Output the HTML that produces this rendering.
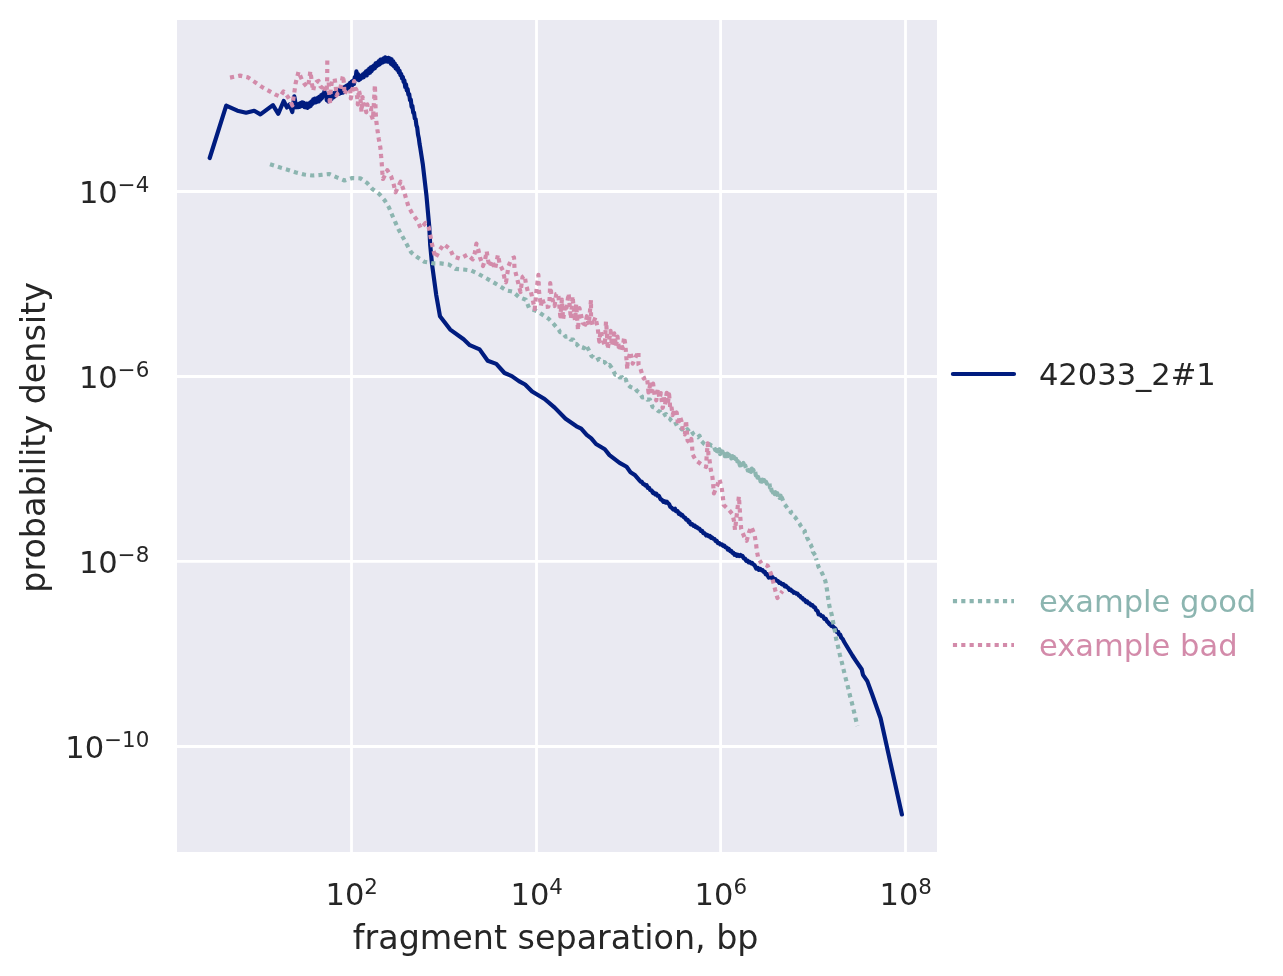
<!DOCTYPE html>
<html lang="en"><head><meta charset="utf-8"><title>fragment separation</title>
<style>html,body{margin:0;padding:0;background:#fff}svg{display:block}</style></head>
<body>
<svg width="1283" height="976" viewBox="0 0 1283 976">
<rect width="1283" height="976" fill="#fff"/>
<rect x="177" y="20" width="760" height="832" fill="#EAEAF2"/>
<line x1="351.5" y1="20" x2="351.5" y2="852" stroke="#fff" stroke-width="2.78"/>
<line x1="536.5" y1="20" x2="536.5" y2="852" stroke="#fff" stroke-width="2.78"/>
<line x1="720.6" y1="20" x2="720.6" y2="852" stroke="#fff" stroke-width="2.78"/>
<line x1="905.5" y1="20" x2="905.5" y2="852" stroke="#fff" stroke-width="2.78"/>
<line x1="177" y1="191.5" x2="937" y2="191.5" stroke="#fff" stroke-width="2.78"/>
<line x1="177" y1="376.5" x2="937" y2="376.5" stroke="#fff" stroke-width="2.78"/>
<line x1="177" y1="561.4" x2="937" y2="561.4" stroke="#fff" stroke-width="2.78"/>
<line x1="177" y1="746.5" x2="937" y2="746.5" stroke="#fff" stroke-width="2.78"/>
<polyline points="209.7,158.0 226.2,105.6 237.4,110.7 246.1,112.7 254.2,110.8 260.4,114.4 272.9,105.1 278.3,113.8 283.7,101.0 287.0,107.5 289.5,104.5 292.3,112.0 294.3,96.3 296.2,107.3 297.2,104.3 298.0,107.2 298.8,103.9 299.6,106.9 300.4,103.1 301.2,106.2 302.0,102.3 302.8,105.8 303.6,102.7 304.4,107.1 305.2,103.8 306.0,107.3 306.8,103.6 307.6,107.9 308.4,104.2 309.2,106.8 310.0,102.7 310.8,105.9 311.6,101.3 312.4,104.0 313.2,99.4 314.0,102.8 314.8,98.6 315.6,102.5 316.4,98.5 317.2,101.8 318.0,97.7 318.8,101.5 319.6,96.7 320.4,99.8 321.2,95.2 322.0,98.2 322.8,94.1 323.6,95.6 324.4,91.4 325.2,95.8 326.0,94.4 326.8,100.3 327.6,98.0 328.4,101.4 329.2,96.5 330.0,99.9 330.8,94.8 331.6,99.0 332.4,94.4 333.2,97.6 334.0,93.2 334.8,96.5 335.6,92.0 336.4,94.8 337.2,90.6 338.0,93.6 338.8,89.8 339.6,93.6 340.4,89.4 341.2,93.0 342.0,88.9 342.8,92.7 343.6,87.7 344.4,91.8 345.2,86.6 346.0,90.0 346.8,85.6 347.6,88.7 348.4,84.5 349.2,87.2 350.0,82.8 350.8,86.4 351.6,81.7 352.4,85.1 353.2,80.6 354.0,84.0 354.8,77.1 355.6,79.4 356.4,71.4 357.2,75.5 358.0,74.1 358.8,80.2 359.6,76.7 360.4,79.1 361.2,75.5 362.0,77.7 362.8,74.4 363.6,77.3 364.4,73.1 365.2,75.8 366.0,71.4 366.8,75.4 367.6,70.4 368.4,73.6 369.2,68.7 370.0,72.7 370.8,67.4 371.6,71.1 372.4,66.7 373.2,69.2 374.0,65.3 374.8,68.3 375.6,63.4 376.4,66.4 377.2,62.5 378.0,65.3 378.8,61.1 379.6,64.5 380.4,59.5 381.2,63.1 382.0,59.3 382.8,62.4 383.6,58.3 384.4,61.6 385.2,57.4 386.0,61.5 386.8,58.0 387.6,61.6 388.4,57.9 389.2,61.8 390.0,58.5 390.8,63.8 391.6,59.4 392.4,65.0 393.2,61.4 394.0,66.4 394.8,63.6 395.6,68.3 396.4,65.8 397.2,69.8 398.0,68.1 398.8,72.3 399.6,70.8 400.4,75.2 401.2,74.0 402.0,78.5 402.8,76.8 403.6,81.9 404.4,80.4 405.2,86.9 406.0,84.2 406.8,90.4 407.6,89.1 408.4,94.8 409.2,94.1 410.0,100.2 410.8,99.7 411.6,106.8 412.4,106.0 413.2,112.6 414.0,112.5 414.8,118.6 415.6,118.9 416.4,125.3 417.2,127.5 418.0,134.5 418.8,138.1 419.6,144.2 420.4,148.7 422.9,164.9 426.5,196.1 429.3,227.3 430.2,244.9 432.0,264.0 436.2,294.8 440.0,316.3 450.2,329.6 463.6,339.3 469.8,345.2 479.6,349.4 487.7,360.8 496.3,363.9 504.5,373.0 511.8,376.1 518.9,381.1 525.1,384.5 532.1,391.5 544.6,399.0 554.7,407.6 565.6,418.8 576.5,426.3 581.2,428.6 586.7,434.8 591.3,438.4 596.0,444.0 604.8,449.2 609.5,455.1 619.6,462.9 626.6,466.8 630.5,472.2 635.2,475.3 639.9,480.8 640.5,481.6 641.8,481.9 643.1,483.9 644.0,484.0 645.5,485.6 646.6,485.2 647.8,487.9 649.1,487.8 650.1,490.0 651.6,490.4 653.0,493.0 653.9,492.6 655.3,494.3 656.2,493.6 657.4,495.6 658.9,495.9 660.5,499.1 661.9,499.9 663.5,501.8 664.4,501.1 665.5,502.6 666.7,501.6 667.8,503.1 669.0,503.9 670.3,506.8 671.8,507.9 673.4,509.7 675.0,508.7 676.0,511.1 677.6,511.1 678.9,513.9 679.9,513.4 681.2,515.4 682.2,515.0 683.7,517.1 685.2,517.9 686.2,519.6 687.7,519.8 688.6,522.1 689.5,521.7 690.6,524.3 692.2,524.2 693.8,526.0 694.8,525.7 695.7,527.1 696.9,527.0 697.9,528.3 699.4,528.8 701.0,531.0 702.1,530.9 703.4,533.2 704.7,533.3 706.1,535.5 707.3,534.8 708.7,536.3 709.8,535.8 711.1,537.9 712.0,537.4 713.3,538.7 714.6,539.1 715.6,541.1 716.8,540.9 718.0,543.2 719.4,543.2 720.3,544.4 721.9,544.4 723.1,545.9 724.2,545.6 725.4,547.2 726.7,547.5 727.8,549.6 728.8,549.0 730.2,551.1 731.2,550.9 732.3,552.8 733.5,552.9 734.5,554.7 735.6,554.1 736.8,555.8 737.8,554.7 739.2,556.0 740.4,555.0 741.4,556.1 742.4,555.9 743.9,558.4 745.0,558.5 746.3,560.9 747.5,560.6 748.6,562.3 749.7,561.8 750.9,563.3 752.1,562.8 753.1,564.3 754.6,565.3 756.2,568.5 757.8,567.8 758.8,569.8 760.3,569.0 761.6,570.4 762.7,570.2 763.7,571.9 764.8,571.8 765.7,574.4 767.1,574.2 768.6,577.5 769.9,577.0 771.3,577.8 772.5,577.2 773.7,578.9 775.3,579.0 776.4,580.7 777.9,581.0 779.4,583.0 780.4,582.7 781.9,584.3 783.3,584.0 784.8,586.4 785.7,585.6 787.2,587.3 788.3,588.0 789.6,590.0 790.8,589.7 791.7,591.0 792.7,591.2 793.6,592.8 795.1,592.5 796.4,593.7 797.5,593.6 798.9,595.6 800.0,596.0 801.1,597.6 802.4,598.0 803.6,599.7 804.6,599.9 805.9,602.0 807.1,601.4 808.4,603.5 809.6,603.3 811.0,605.2 812.4,605.2 813.5,606.9 814.8,607.2 816.0,609.8 817.6,611.1 818.7,614.5 820.2,614.5 821.4,616.0 822.9,616.3 824.4,618.9 825.8,618.9 827.0,621.4 828.4,622.6 829.4,624.3 830.3,624.2 831.3,625.9 832.3,625.8 833.8,627.4 835.3,628.4 836.8,631.8 838.1,631.8 839.0,634.4 840.2,634.6 841.2,637.5 842.8,639.1 843.9,641.5 852.4,655.5 856.1,661.1 861.7,669.3 863.0,674.9 867.3,681.1 872.3,694.8 876.7,707.3 880.6,718.2 901.9,814.5" fill="none" stroke="#001C7F" stroke-width="4.17" stroke-linecap="round" stroke-linejoin="round"/>
<polyline points="270.0,164.2 280.3,167.6 288.3,169.9 296.1,172.4 304.2,174.5 312.3,175.5 320.7,174.9 329.2,174.0 336.9,177.4 344.4,180.5 352.2,178.0 360.3,178.3 367.2,183.0 372.5,189.1 379.4,194.1 384.7,200.4 388.9,207.3 392.2,215.2 395.5,222.7 399.0,230.3 403.0,237.5 407.0,244.8 411.1,252.3 417.4,257.3 424.3,261.8 432.7,263.3 440.9,263.4 448.9,264.6 455.7,268.9 463.6,269.5 471.1,270.5 478.6,274.0 485.8,278.0 492.9,282.0 499.8,286.1 506.6,290.4 512.8,291.7 519.1,297.1 525.9,299.8 529.1,308.2 536.5,311.0 542.1,314.4 548.3,318.4 553.8,324.1 558.8,329.8 560.0,332.1 562.6,332.4 565.5,336.7 568.4,336.4 570.6,339.6 573.1,339.6 574.8,343.8 576.6,344.1 579.0,347.0 580.8,346.8 583.7,348.2 585.4,344.8 587.1,347.2 588.8,350.0 591.6,356.2 593.4,357.1 596.3,360.4 599.2,358.9 601.7,361.9 604.6,362.0 607.6,365.9 609.5,364.8 611.3,367.2 612.9,370.0 615.3,374.7 617.8,374.6 619.8,377.5 622.0,377.2 624.2,380.7 625.8,379.4 627.3,384.3 630.1,386.8 632.8,387.8 635.1,388.1 636.7,390.7 639.6,392.7 642.3,397.4 645.2,397.2 647.2,399.7 649.9,399.5 652.5,406.9 655.3,408.1 658.2,411.0 660.2,411.7 663.1,415.8 666.0,414.1 668.0,417.8 669.7,418.6 671.0,420.3 672.2,421.3 674.7,420.9 677.0,425.9 679.6,426.6 681.9,429.5 683.8,428.9 685.8,430.9 687.4,429.2 689.3,431.7 690.8,430.2 693.4,434.2 695.9,436.1 697.9,437.3 699.5,435.8 701.6,441.3 704.3,443.9 707.2,445.5 709.5,444.2 711.8,445.7 713.3,445.0 715.2,449.9 715.9,446.2 716.8,451.2 717.7,448.3 718.6,451.7 719.4,449.3 720.1,454.1 721.0,451.3 721.8,454.8 722.5,451.5 723.3,454.9 723.9,452.3 724.9,456.1 725.7,453.2 726.6,456.2 727.5,453.7 728.3,456.8 729.0,454.8 730.0,458.1 730.8,456.0 731.4,458.5 732.4,456.2 733.1,460.5 734.0,457.1 735.0,461.5 736.0,458.7 736.8,463.8 737.6,460.9 738.3,464.9 739.0,462.2 739.9,465.4 740.7,461.7 741.3,465.2 742.0,462.9 742.7,465.5 743.4,463.0 744.4,467.9 745.2,465.4 746.2,468.9 747.1,467.1 747.8,470.5 748.7,467.0 749.5,471.1 750.3,468.0 751.1,471.9 751.8,468.5 752.4,472.4 753.4,470.0 754.2,473.1 755.1,471.2 755.8,475.4 756.8,473.5 757.5,477.6 758.1,476.9 758.9,479.7 759.8,477.5 760.5,481.3 761.2,478.6 761.9,481.7 762.6,479.7 763.5,483.2 764.1,480.1 765.0,484.5 766.0,481.8 766.7,483.6 767.6,481.8 768.5,484.2 769.4,483.4 770.0,487.6 770.7,485.7 771.5,490.6 772.3,487.8 772.9,492.5 773.7,489.8 774.7,494.1 775.6,492.3 776.4,495.6 777.3,493.1 778.1,497.1 779.1,495.6 779.7,497.9 780.6,495.7 781.4,499.9 782.0,497.8 784.0,503.7 785.9,505.9 787.6,508.5 789.9,510.4 791.0,511.7 790.6,512.3 793.4,514.4 793.1,515.5 795.5,517.6 795.8,518.3 797.5,520.6 797.5,520.9 799.8,523.9 800.1,525.0 802.0,527.3 801.9,528.2 804.9,531.1 804.6,532.7 807.1,535.9 807.2,537.9 809.2,541.5 809.2,542.6 811.1,545.2 811.2,546.2 813.2,549.3 812.9,551.9 815.6,555.8 815.1,557.3 816.0,558.3" fill="none" stroke="#8CB5B0" stroke-width="4.17" stroke-dasharray="4.17 4.17" stroke-linejoin="round"/>
<polyline points="857.4,726.0 855.9,719.8 854.0,711.6 852.0,703.3 849.9,695.4 848.0,687.3 845.9,679.2 843.9,671.1 842.0,663.0 839.9,654.9 838.1,646.9 836.1,638.7 834.8,630.5 833.1,622.1 831.6,614.2 829.4,606.1 828.1,598.0 827.0,589.9 825.4,581.1 822.3,573.6 818.5,566.8 816.0,558.3" fill="none" stroke="#8CB5B0" stroke-width="4.17" stroke-dasharray="4.17 4.17" stroke-dashoffset="3.9" stroke-linejoin="round"/>
<polyline points="230.0,77.6 240.0,75.6 248.0,77.4 262.0,87.0 276.0,94.9 280.0,96.5 283.5,91.5 288.0,97.0 292.4,105.5 295.7,83.0 298.5,71.8 302.0,80.0 304.5,84.0 307.0,87.0 308.5,83.0 309.4,79.0 310.3,71.3 311.2,77.0 312.0,84.0 313.2,90.8 314.5,84.0 316.5,82.0 318.6,81.0 320.5,86.5 322.0,87.5 323.5,84.5 325.0,88.0 326.0,94.5" fill="none" stroke="#D38BAA" stroke-width="4.17" stroke-dasharray="4.17 4.17" stroke-dashoffset="0" stroke-linejoin="round"/>
<polyline points="327.3,60.6 327.2,78.0 326.6,93.0" fill="none" stroke="#D38BAA" stroke-width="4.17" stroke-dasharray="4.17 4.17" stroke-dashoffset="0" stroke-linejoin="round"/>
<polyline points="381.1,156.0 380.4,147.9 378.7,138.5 377.4,129.8 376.3,121.0 375.7,113.0 374.9,84.9 373.6,108.0 372.9,119.5 371.5,115.5 371.0,108.0 369.0,109.0 367.3,104.5 366.3,112.3 365.0,105.0 363.6,104.5 362.6,97.0 361.5,112.0 360.3,96.0 358.8,90.0 357.8,104.5 356.5,90.0 355.2,88.0 354.2,81.0 352.5,90.0 350.8,98.5 350.2,89.5 348.0,88.5 346.0,91.0 344.6,94.5 343.9,83.0 343.0,75.5 341.0,85.0 339.5,92.0 338.0,93.0 336.5,95.5 335.6,85.0 334.6,78.5 332.0,81.0 330.8,89.0 330.0,104.8 329.4,97.0 328.6,79.5" fill="none" stroke="#D38BAA" stroke-width="4.17" stroke-dasharray="4.17 4.17" stroke-dashoffset="2.085" stroke-linejoin="round"/>
<polyline points="381.1,156.0 381.8,164.3 382.4,173.0 383.0,179.0 387.3,170.2 391.0,176.0 393.5,183.6 395.5,192.3 398.0,187.3 400.6,181.7 403.8,190.4 406.0,198.3 408.5,206.7 412.3,213.6 417.3,220.6 420.8,228.3 425.5,223.0 428.6,226.8 430.3,235.2 431.8,243.3 433.6,251.1 435.5,257.9 439.5,250.4 443.8,244.2 450.0,249.0 453.4,256.5 460.0,258.7 467.3,254.7 472.7,259.3 474.8,253.0 476.4,243.6 478.4,250.0 480.0,257.5 483.0,266.0 485.0,260.0 486.7,251.2 488.0,260.0 489.5,266.8 492.3,260.5 495.0,269.3 497.9,254.9 499.8,264.3 502.9,270.5 504.5,278.0 506.0,282.3 508.5,266.0 511.6,258.7 514.0,257.5 514.5,268.0 516.0,274.2 518.5,284.2 520.5,292.0 522.5,277.0 524.7,275.5 525.9,283.8 528.0,292.0 531.0,292.3 533.0,301.0 534.7,309.2 536.5,290.0 538.4,274.9 539.0,291.1 540.9,306.0 542.1,298.6 545.0,307.0 548.4,306.7 549.6,299.2 550.2,283.0 551.5,296.0 554.6,306.0 556.2,294.1 558.2,293.5 560.3,316.4 561.9,299.5 563.1,319.6 565.4,304.5 566.6,307.7 568.6,293.4 570.9,318.7 572.5,296.2 575.0,320.6 576.2,304.3 578.0,330.1 579.5,308.2 581.4,316.7 583.0,323.3 585.5,324.5 586.8,316.2 588.7,324.9 591.0,300.0 591.0,317.9 592.6,325.0 595.4,317.3 597.7,327.9 599.3,341.6 600.6,330.6 602.8,340.7 604.8,345.4 606.0,321.5 606.2,321.9 607.7,349.1 610.6,330.9 611.9,345.9 614.3,333.4 616.0,346.3 617.5,336.6 619.2,350.8 620.8,343.4 622.6,348.1 624.2,337.0 625.4,345.5 627.3,369.5 627.6,362.1 630.4,351.9 632.7,363.7 635.7,356.8 638.5,351.5 638.5,364.9 640.5,368.7 642.3,374.8 643.7,378.5 645.3,377.7 647.0,377.1 648.5,392.5 650.2,384.5 651.3,395.2 653.1,383.6 654.7,396.1 656.3,400.4 657.8,389.1 659.6,398.6 660.8,393.1 662.6,408.0 662.9,407.3 663.7,395.2 665.0,404.9 666.7,392.8 667.7,404.4 669.1,394.4 670.2,407.6 671.3,405.6 672.6,415.2 674.5,409.1 675.6,416.5 676.7,412.5 678.1,425.0 679.8,416.2 681.4,420.9 683.2,432.3 684.9,434.4 686.0,420.3 687.6,440.6 689.5,442.7 691.3,438.8 692.1,445.7 692.5,454.3 696.0,460.5 701.5,464.4 706.1,467.0 706.6,457.0 707.7,443.4 708.5,455.0 709.5,460.0 710.8,469.9 712.4,476.9 713.2,484.7 713.9,493.3 717.0,486.2 719.4,479.2 721.7,487.8 722.8,496.4 723.7,505.0 728.7,509.6 732.6,514.3 734.2,522.1 735.0,529.9 737.0,513.0 738.9,496.4 740.0,513.0 741.2,529.1 744.3,536.9 746.7,540.8 749.0,532.2 751.3,526.8 754.5,534.6 756.0,543.1 756.8,550.9 758.4,558.7 761.5,563.4" fill="none" stroke="#D38BAA" stroke-width="4.17" stroke-dasharray="4.17 4.17" stroke-dashoffset="2.085" stroke-linejoin="round"/>
<polyline points="765.7,565.0 767.7,565.8 770.9,573.6 773.0,581.1 775.1,589.6 777.4,598.0 782.5,591.0" fill="none" stroke="#D38BAA" stroke-width="4.17" stroke-dasharray="4.17 4.17" stroke-dashoffset="0" stroke-linejoin="round"/>
<text x="351.7" y="904.9" text-anchor="middle" font-size="30.56" fill="#262626" font-family="DejaVu Sans, Liberation Sans, sans-serif">10<tspan dy="-11.1" font-size="21.39">2</tspan></text>
<text x="536.7" y="904.9" text-anchor="middle" font-size="30.56" fill="#262626" font-family="DejaVu Sans, Liberation Sans, sans-serif">10<tspan dy="-11.1" font-size="21.39">4</tspan></text>
<text x="720.8000000000001" y="904.9" text-anchor="middle" font-size="30.56" fill="#262626" font-family="DejaVu Sans, Liberation Sans, sans-serif">10<tspan dy="-11.1" font-size="21.39">6</tspan></text>
<text x="905.7" y="904.9" text-anchor="middle" font-size="30.56" fill="#262626" font-family="DejaVu Sans, Liberation Sans, sans-serif">10<tspan dy="-11.1" font-size="21.39">8</tspan></text>
<text x="149.3" y="203.2" text-anchor="end" font-size="30.56" fill="#262626" font-family="DejaVu Sans, Liberation Sans, sans-serif">10<tspan dy="-11.1" font-size="21.39">−4</tspan></text>
<text x="149.3" y="388.2" text-anchor="end" font-size="30.56" fill="#262626" font-family="DejaVu Sans, Liberation Sans, sans-serif">10<tspan dy="-11.1" font-size="21.39">−6</tspan></text>
<text x="149.3" y="573.1" text-anchor="end" font-size="30.56" fill="#262626" font-family="DejaVu Sans, Liberation Sans, sans-serif">10<tspan dy="-11.1" font-size="21.39">−8</tspan></text>
<text x="149.3" y="758.2" text-anchor="end" font-size="30.56" fill="#262626" font-family="DejaVu Sans, Liberation Sans, sans-serif">10<tspan dy="-11.1" font-size="21.39">−10</tspan></text>
<text x="555.7" y="949" text-anchor="middle" font-size="33.33" fill="#262626" font-family="DejaVu Sans, Liberation Sans, sans-serif">fragment separation, bp</text>
<text transform="translate(45.2,437.4) rotate(-90)" text-anchor="middle" font-size="33.33" fill="#262626" font-family="DejaVu Sans, Liberation Sans, sans-serif">probability density</text>
<line x1="952.9" y1="374.0" x2="1014" y2="374.0" stroke="#001C7F" stroke-width="4.17" stroke-linecap="round"/>
<text x="1038.9" y="385" font-size="30.56" fill="#262626" font-family="DejaVu Sans, Liberation Sans, sans-serif">42033_2#1</text>
<line x1="952.9" y1="601.1" x2="1014" y2="601.1" stroke="#8CB5B0" stroke-width="4.17" stroke-dasharray="4.17 4.17"/>
<text x="1038.9" y="612.0" font-size="30.56" fill="#8CB5B0" font-family="DejaVu Sans, Liberation Sans, sans-serif">example good</text>
<line x1="952.9" y1="645.0" x2="1014" y2="645.0" stroke="#D38BAA" stroke-width="4.17" stroke-dasharray="4.17 4.17"/>
<text x="1038.9" y="656.0" font-size="30.56" fill="#D38BAA" font-family="DejaVu Sans, Liberation Sans, sans-serif">example bad</text>
</svg>
</body></html>
